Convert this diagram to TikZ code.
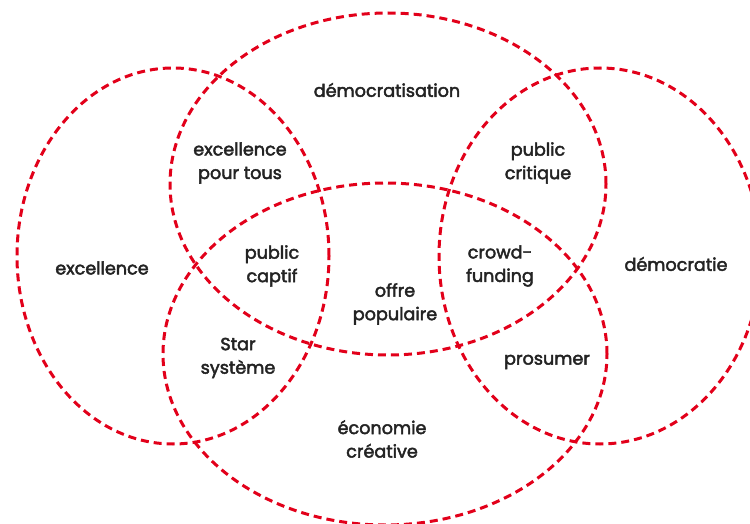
\documentclass[tikz,border=0pt]{standalone}
\usepackage{fontspec}
\setmainfont{Poppins}
% fill-and-stroke text rendering gives the labels a medium weight
\newcommand\weighton{\special{pdf:literal direct 2 Tr 0.45 w}}
\newcommand\weightoff{\special{pdf:literal direct 0 Tr}}
\begin{document}
\begin{tikzpicture}[x=1pt,y=-1pt,
  set/.style={draw=setred, line width=3pt, dash pattern=on 8pt off 5pt},
  lbl/.style={text=labelgray, font=\fontsize{17.6}{23.5}\selectfont, align=center, inner sep=0pt,
    execute at begin node=\weighton, execute at end node=\weightoff}]
\definecolor{setred}{HTML}{E2001A}
\definecolor{labelgray}{HTML}{232323}
\useasboundingbox (0,0) rectangle (750,524);
% the four overlapping sets
\draw[set] (173,256) ellipse [x radius=156pt, y radius=188pt];
\draw[set] (388,184) ellipse [x radius=218pt, y radius=171pt];
\draw[set] (600,256) ellipse [x radius=161pt, y radius=188pt];
\draw[set] (385,354) ellipse [x radius=222pt, y radius=171pt];
% labels of the regions
\node[lbl] (demo)  at (387,90)  {démocratisation};
\node[lbl] (exctous) at (240,163) {excellence\\pour tous};
\node[lbl] (crit)  at (538,163) {public\\critique};
\node[lbl] (exc)   at (102,268) {excellence};
\node[lbl] (captif) at (272,266) {public\\captif};
\node[lbl] (crowd) at (500,266) {crowd-\\funding};
\node[lbl] (dem)   at (676,264) {démocratie};
\node[lbl] (offre) at (395,304) {offre\\populaire};
\node[lbl] (star)  at (238,358) {Star\\système};
\node[lbl] (pros)  at (547,362) {prosumer};
\node[lbl] (eco)   at (382,439) {économie\\créative};
\end{tikzpicture}
\end{document}
